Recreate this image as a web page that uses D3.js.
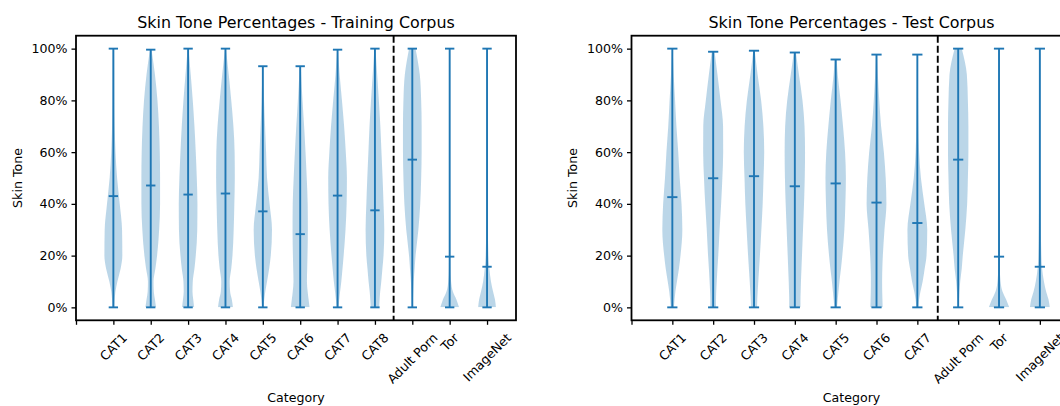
<!DOCTYPE html>
<html>
<head>
<meta charset="utf-8">
<script src="https://cdn.jsdelivr.net/npm/d3@7"></script>
<style>
  body { margin: 0; background: #fff; }
  svg text { font-family: "DejaVu Sans", sans-serif; fill: #000; }
</style>
</head>
<body>
<div id="chart"></div>
<script>
// ── DATA ───────────────────────────────────────────────────────────────
// skin tone levels (%) at which the violin half-widths are read
const LEVELS = [0, 3, 6, 10, 15, 20, 30, 40, 50, 60, 70, 80, 90, 100];
const Y_TICKS = [0, 20, 40, 60, 80, 100];

const TRAIN_CATEGORIES = ["CAT1", "CAT2", "CAT3", "CAT4", "CAT5", "CAT6", "CAT7", "CAT8", "Adult Porn", "Tor", "ImageNet"];
const TRAIN_MINS    = [0, 0, 0, 0, 0, 0, 0, 0, 0, 0, 0];
const TRAIN_MAXES   = [100, 99.6, 100, 100, 93.2, 93.2, 99.6, 100, 100, 100, 100];
const TRAIN_MEDIANS = [43.0, 47.1, 43.6, 44.0, 37.1, 28.3, 43.2, 37.5, 57.1, 19.6, 15.7];
// relative half-width of each violin at LEVELS (1 = widest)
const TRAIN_PROFILES = [
    [0.10, 0.14, 0.22, 0.43, 0.78, 0.96, 0.93, 0.68, 0.40, 0.23, 0.14, 0.10, 0.09, 0.07],
    [0.57, 0.45, 0.33, 0.30, 0.50, 0.68, 0.90, 1.00, 1.00, 0.97, 0.88, 0.72, 0.45, 0.07],
    [0.65, 0.55, 0.47, 0.50, 0.68, 0.82, 0.98, 1.00, 0.93, 0.82, 0.68, 0.50, 0.28, 0.05],
    [0.80, 0.68, 0.50, 0.45, 0.62, 0.75, 0.88, 0.95, 1.00, 0.98, 0.85, 0.62, 0.35, 0.05],
    [0.07, 0.15, 0.26, 0.45, 0.68, 0.85, 0.98, 0.72, 0.45, 0.35, 0.24, 0.13, 0.07, 0.03],
    [1.00, 0.90, 0.80, 0.72, 0.75, 0.78, 0.82, 0.80, 0.70, 0.57, 0.42, 0.25, 0.10, 0.05],
    [0.10, 0.18, 0.27, 0.40, 0.53, 0.65, 0.85, 0.97, 1.00, 0.88, 0.70, 0.47, 0.22, 0.04],
    [0.45, 0.50, 0.56, 0.68, 0.80, 0.92, 1.00, 0.92, 0.82, 0.70, 0.58, 0.42, 0.24, 0.06],
    [0.05, 0.07, 0.10, 0.15, 0.25, 0.35, 0.65, 0.85, 0.95, 1.00, 1.00, 0.95, 0.80, 0.35],
    [1.00, 0.72, 0.35, 0.15, 0.08, 0.07, 0.06, 0.06, 0.05, 0.05, 0.05, 0.05, 0.05, 0.04],
    [0.95, 0.85, 0.65, 0.42, 0.25, 0.15, 0.09, 0.07, 0.06, 0.05, 0.05, 0.05, 0.05, 0.03]
];

const TEST_CATEGORIES = ["CAT1", "CAT2", "CAT3", "CAT4", "CAT5", "CAT6", "CAT7", "Adult Porn", "Tor", "ImageNet"];
const TEST_MINS    = [0, 0, 0, 0, 0, 0, 0, 0, 0, 0];
const TEST_MAXES   = [100, 98.8, 99.2, 98.5, 95.8, 97.7, 97.7, 100, 100, 100];
const TEST_MEDIANS = [42.6, 49.9, 50.7, 46.8, 47.9, 40.5, 32.6, 57.1, 19.6, 15.7];
const TEST_PROFILES = [
    [0.15, 0.22, 0.30, 0.45, 0.65, 0.80, 0.98, 0.90, 0.72, 0.58, 0.40, 0.27, 0.13, 0.04],
    [0.28, 0.28, 0.30, 0.35, 0.42, 0.50, 0.63, 0.78, 0.90, 0.98, 0.97, 0.72, 0.42, 0.10],
    [0.30, 0.32, 0.36, 0.42, 0.50, 0.58, 0.72, 0.85, 0.93, 1.00, 0.92, 0.70, 0.35, 0.05],
    [0.55, 0.55, 0.57, 0.60, 0.65, 0.70, 0.80, 0.90, 0.97, 1.00, 0.95, 0.75, 0.40, 0.05],
    [0.13, 0.20, 0.27, 0.37, 0.52, 0.65, 0.85, 0.95, 1.00, 0.92, 0.72, 0.48, 0.20, 0.05],
    [0.60, 0.58, 0.56, 0.55, 0.57, 0.62, 0.78, 0.97, 0.90, 0.72, 0.45, 0.27, 0.13, 0.04],
    [0.10, 0.17, 0.30, 0.52, 0.72, 0.90, 0.97, 0.68, 0.35, 0.17, 0.10, 0.07, 0.05, 0.03],
    [0.05, 0.08, 0.12, 0.20, 0.35, 0.45, 0.70, 0.88, 0.95, 1.00, 1.00, 0.95, 0.85, 0.35],
    [1.00, 0.70, 0.35, 0.15, 0.08, 0.07, 0.06, 0.06, 0.05, 0.05, 0.05, 0.05, 0.05, 0.04],
    [0.97, 0.85, 0.62, 0.40, 0.22, 0.15, 0.10, 0.08, 0.06, 0.05, 0.05, 0.05, 0.05, 0.03]
];

// dashed separator between own categories and reference corpora
const TRAIN_SPLIT = 8.5;
const TEST_SPLIT = 7.5;

(function () {
    const width = 1060, height = 406;
    const axW = 440, axTop = 35.7, axBottom = 320.3;
    const blue = "#1f77b4";
    const fs = 12.6;

    const svg = d3.select("#chart")
        .append("svg")
        .attr("width", width)
        .attr("height", height)
        .attr("viewBox", `0 0 ${width} ${height}`);

    const defs = svg.append("defs");

    const panels = [
        { id: "train", left: 76, title: "Skin Tone Percentages - Training Corpus",
          cats: TRAIN_CATEGORIES, mins: TRAIN_MINS, maxes: TRAIN_MAXES,
          medians: TRAIN_MEDIANS, profiles: TRAIN_PROFILES, split: TRAIN_SPLIT },
        { id: "test", left: 631.5, title: "Skin Tone Percentages - Test Corpus",
          cats: TEST_CATEGORIES, mins: TEST_MINS, maxes: TEST_MAXES,
          medians: TEST_MEDIANS, profiles: TEST_PROFILES, split: TEST_SPLIT }
    ];

    panels.forEach(drawPanel);

    function drawPanel(p) {
        const n = p.cats.length;
        const x = d3.scaleLinear().domain([0, n + 0.775]).range([p.left, p.left + axW]);
        const y = d3.scaleLinear().domain([-5, 105]).range([axBottom, axTop]);
        const unit = x(1) - x(0);
        const halfMax = 0.25 * unit;      // violin width 0.5
        const cap = 0.125 * unit;         // extrema / median bar half length

        const g = svg.append("g");

        // ── VIOLINS ──
        p.cats.forEach((c, i) => {
            const cx = x(i + 1);
            const clipId = `clip-${p.id}-${i}`;
            defs.append("clipPath").attr("id", clipId)
                .append("rect")
                .attr("x", cx - halfMax - 2).attr("width", 2 * halfMax + 4)
                .attr("y", y(p.maxes[i])).attr("height", y(p.mins[i]) - y(p.maxes[i]));

            const pts = LEVELS.map((lv, k) => ({ lv, w: p.profiles[i][k] }));
            const area = d3.area()
                .y(d => y(d.lv))
                .x0(d => cx - d.w * halfMax)
                .x1(d => cx + d.w * halfMax)
                .curve(d3.curveMonotoneY);

            g.append("path")
                .datum(pts)
                .attr("clip-path", `url(#${clipId})`)
                .attr("d", area)
                .attr("fill", blue)
                .attr("fill-opacity", 0.3);
        });

        // ── MIN / MAX / MEDIAN BARS ──
        const lines = g.append("g").attr("stroke", blue).attr("stroke-width", 1.9);
        p.cats.forEach((c, i) => {
            const cx = x(i + 1);
            lines.append("line")
                .attr("x1", cx).attr("x2", cx)
                .attr("y1", y(p.mins[i])).attr("y2", y(p.maxes[i]));
            [p.mins[i], p.maxes[i], p.medians[i]].forEach(v => {
                lines.append("line")
                    .attr("x1", cx - cap).attr("x2", cx + cap)
                    .attr("y1", y(v)).attr("y2", y(v));
            });
        });

        // ── SEPARATOR ──
        g.append("line")
            .attr("x1", x(p.split)).attr("x2", x(p.split))
            .attr("y1", axTop).attr("y2", axBottom)
            .attr("stroke", "#000").attr("stroke-width", 1.9)
            .attr("stroke-dasharray", "7,3");

        // ── AXES ──
        const yAxis = g.append("g")
            .attr("transform", `translate(${p.left},0)`)
            .call(d3.axisLeft(y).tickValues(Y_TICKS).tickFormat(d => d + "%")
                .tickSize(4.5).tickPadding(4).tickSizeOuter(0));
        yAxis.select(".domain").remove();
        yAxis.selectAll("line").attr("stroke", "#000").attr("stroke-width", 1.3);
        yAxis.selectAll("text").attr("font-size", fs).attr("font-family", "DejaVu Sans");

        const xAxis = g.append("g")
            .attr("transform", `translate(0,${axBottom})`)
            .call(d3.axisBottom(x).tickValues(d3.range(0, n + 1)).tickFormat("")
                .tickSize(4.5).tickSizeOuter(0));
        xAxis.select(".domain").remove();
        xAxis.selectAll("line").attr("stroke", "#000").attr("stroke-width", 1.3);

        // rotated category labels, bounding box centred under each tick
        p.cats.forEach((c, i) => {
            const t = g.append("text")
                .attr("font-size", fs)
                .attr("text-anchor", "middle")
                .attr("dominant-baseline", "central")
                .text(c);
            const w = t.node().getComputedTextLength();
            const side = (w + 9) / Math.SQRT2;
            const cx = x(i + 1), cy = axBottom + 12 + side / 2;
            t.attr("transform", `translate(${cx},${cy}) rotate(-45)`);
        });

        // spines
        g.append("rect")
            .attr("x", p.left).attr("y", axTop)
            .attr("width", axW).attr("height", axBottom - axTop)
            .attr("fill", "none").attr("stroke", "#000").attr("stroke-width", 1.8);

        // ── TITLES ──
        g.append("text")
            .attr("x", p.left + axW / 2).attr("y", 28)
            .attr("text-anchor", "middle").attr("font-size", 15.9)
            .text(p.title);

        g.append("text")
            .attr("x", p.left + axW / 2).attr("y", 402)
            .attr("text-anchor", "middle").attr("font-size", fs)
            .text("Category");

        g.append("text")
            .attr("transform", `translate(${p.left - 59},${(axTop + axBottom) / 2}) rotate(-90)`)
            .attr("text-anchor", "middle").attr("dominant-baseline", "central")
            .attr("font-size", fs)
            .text("Skin Tone");
    }
})();
</script>
</body>
</html>
